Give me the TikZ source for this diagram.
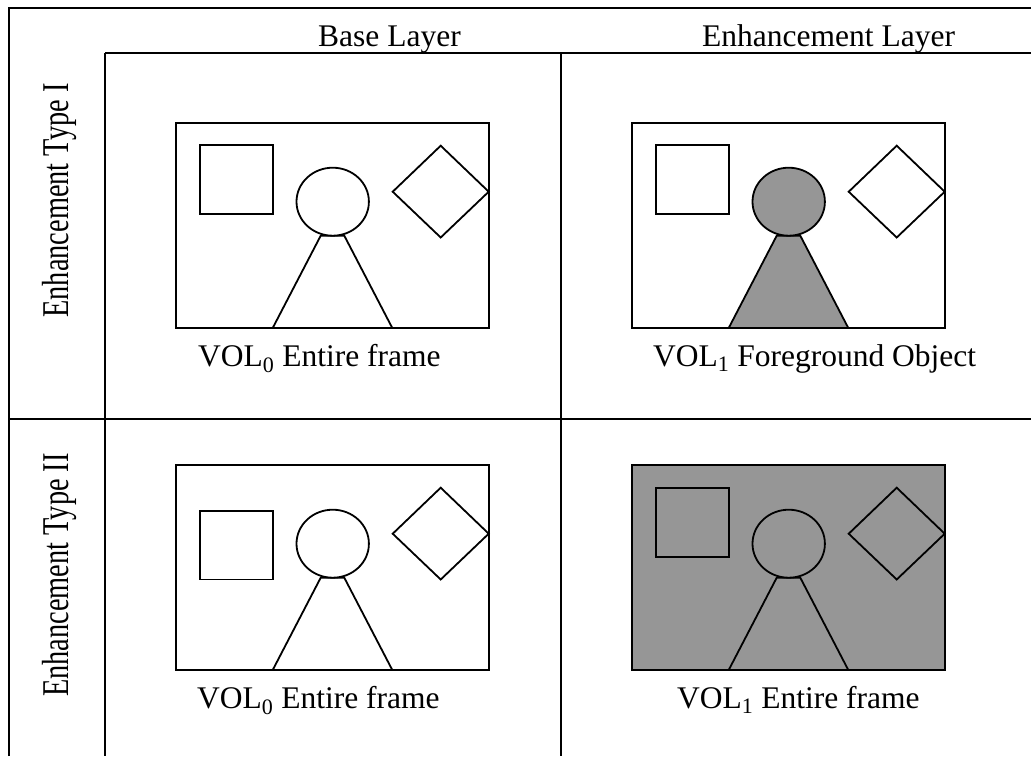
\documentclass[tikz,border=0pt]{standalone}
\usepackage{fontspec}
\setmainfont{Liberation Serif}
\usepackage{graphicx}
\definecolor{objgray}{RGB}{150,150,150}
\tikzset{
  grid line/.style={line width=2.2pt, black},
  shape line/.style={line width=1.8pt, black},
  caption/.style={inner sep=0pt, anchor=base west, font=\fontsize{31.5}{34}\selectfont},
  rowlabel/.style={inner sep=0pt, anchor=base, rotate=90},
}
% One VOP scene: #1 frame origin, #2 backdrop fill, #3 person fill, #4 top of the square
\newcommand\vopscene[4]{%
  \begin{scope}[shift={#1}]
    \draw[shape line, fill=#2] (0,0) rectangle (312.4,205);
    \draw[shape line] (24,#4) rectangle (96.4,{#4+68.4});
    \draw[shape line, fill=#3] (144.4,112.7) -- (168,112.7) -- (216,205) -- (96.4,205) -- cycle;
    \draw[shape line, fill=#3] (156.4,78.7) ellipse [x radius=36.2, y radius=34];
    \draw[shape line] (216.4,68.7) -- (264.4,22.7) -- (312.4,68.7) -- (264.4,114.5) -- cycle;
  \end{scope}}
\begin{document}
\begin{tikzpicture}[x=1pt, y=-1pt]
  \useasboundingbox[fill=white] (0,0) rectangle (1031,756);

  % table rules (the table runs on past the right and bottom edges)
  \draw[grid line] (9,756) -- (9,8) -- (1031,8);
  \draw[grid line] (105,53) -- (1031,53);
  \draw[grid line] (9,419.3) -- (1031,419.3);
  \draw[grid line] (105,53) -- (105,756);
  \draw[grid line] (560.7,53) -- (560.7,756);

  % column headings
  \node[caption] (hbase) at (318,46) {Base Layer};
  \node[caption] (henh) at (702,46) {Enhancement Layer};

  % row headings
  \node[rowlabel] (rtype1) at (68,200.5)
    {\scalebox{0.75}[1]{\fontsize{37.8}{40}\selectfont Enhancement Type I}};
  \node[rowlabel] (rtype2) at (68,575)
    {\scalebox{0.75}[1]{\fontsize{37.8}{40}\selectfont Enhancement Type II}};

  % scenes
  \vopscene{(176.3,123)}{white}{white}{22.3}
  \vopscene{(632.3,123)}{white}{objgray}{22.3}
  \vopscene{(176.3,465)}{white}{white}{46}
  \vopscene{(632.3,465)}{objgray}{objgray}{23.3}

  % captions under the scenes
  \node[caption] (c11) at (198,366) {VOL\textsubscript{0} Entire frame};
  \node[caption] (c12) at (653,366) {VOL\textsubscript{1} Foreground Object};
  \node[caption] (c21) at (197,708) {VOL\textsubscript{0} Entire frame};
  \node[caption] (c22) at (677,708) {VOL\textsubscript{1} Entire frame};
\end{tikzpicture}
\end{document}
